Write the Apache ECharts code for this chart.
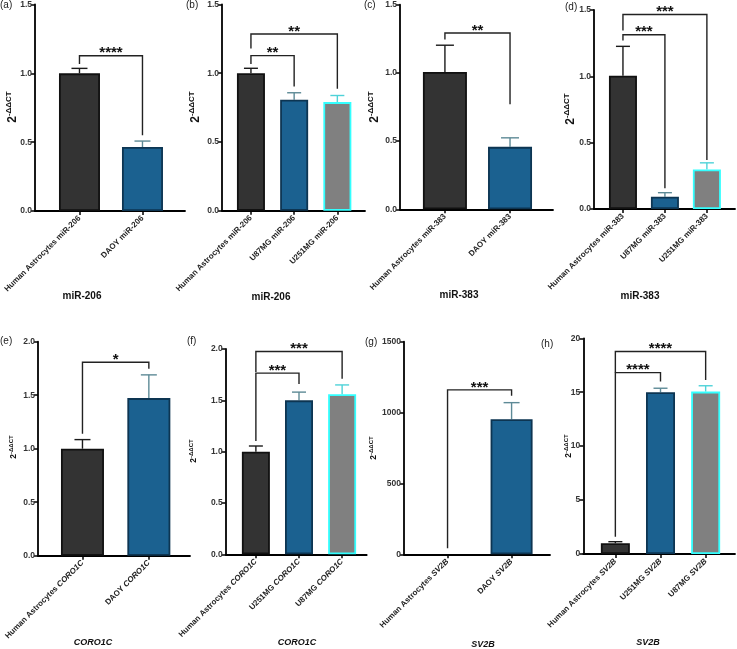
<!DOCTYPE html>
<html><head><meta charset="utf-8">
<script src="https://cdn.jsdelivr.net/npm/echarts@6/dist/echarts.min.js"></script>
<style>html,body{margin:0;padding:0;background:#fff}#c{width:737px;height:649px}</style>
</head><body><div id="c"></div>
<script>
// ---------- data ----------
const catA = ['Human Astrocytes miR-206', 'DAOY miR-206'];
const valA = [1.0, 0.465];
const errA = [0.036, 0.043];
const sigA = [[0, 1, 1.128, 1.068, 0.55, '****']];

const catB = ['Human Astrocytes miR-206', 'U87MG miR-206', 'U251MG miR-206'];
const valB = [1.0, 0.807, 0.79];
const errB = [0.036, 0.051, 0.048];
const sigB = [[0, 1, 1.128, 1.068, 0.904, '**'], [0, 2, 1.285, 1.18, 0.887, '**']];

const catC = ['Human Astrocytes miR-383', 'DAOY miR-383'];
const valC = [1.007, 0.458];
const errC = [0.196, 0.066];
const sigC = [[0, 1, 1.293, 1.245, 0.77, '**']];

const catD = ['Human Astrocytes miR-383', 'U87MG miR-383', 'U251MG miR-383'];
const valD = [1.005, 0.092, 0.298];
const errD = [0.221, 0.031, 0.05];
const sigD = [[0, 1, 1.313, 1.27, 0.156, '***'], [0, 2, 1.466, 1.346, 0.37, '***']];

const catE = ['Human Astrocytes CORO1C', 'DAOY CORO1C'];
const valE = [1.0, 1.473];
const errE = [0.085, 0.217];
const sigE = [[0, 1, 1.808, 1.14, 1.747, '*']];

const catF = ['Human Astrocytes CORO1C', 'U251MG CORO1C', 'U87MG CORO1C'];
const valF = [1.0, 1.5, 1.56];
const errF = [0.055, 0.08, 0.09];
const sigF = [[0, 1, 1.765, 1.104, 1.66, '***'], [0, 2, 1.976, 1.775, 1.709, '***']];

const catG = ['Human Astrocytes SV2B', 'DAOY SV2B'];
const valG = [1, 953];
const errG = [0.1, 117];
const sigG = [[0, 1, 1160, 42, 1118, '***']];

const catH = ['Human Astrocytes SV2B', 'U251MG SV2B', 'U87MG SV2B'];
const valH = [1.0, 15.0, 15.06];
const errH = [0.14, 0.37, 0.54];
const sigH = [[0, 1, 16.82, 1.6, 16.0, '****'], [0, 2, 18.77, 16.82, 16.14, '****']];

const panelLetters = ['(a)', '(b)', '(c)', '(d)', '(e)', '(f)', '(g)', '(h)'];
const groupTitles = ['miR-206', 'miR-206', 'miR-383', 'miR-383', 'CORO1C', 'CORO1C', 'SV2B', 'SV2B'];
const yMax = [1.5, 1.5, 1.5, 1.5, 2.0, 2.0, 1500, 20];
const yStep = [0.5, 0.5, 0.5, 0.5, 0.5, 0.5, 500, 5];
const yBase = '2';
const yExp = '-ΔΔCT';

// ---------- styling / layout ----------
const barFill = ['#333333', '#1b6190', '#808080'];
const barEdge = ['#111111', '#0d3552', '#33ffff'];
const errColor = ['#1a1a1a', '#5d8a96', '#4fd2d8'];

const panels = [
  {cat: catA, val: valA, err: errA, sig: sigA, grid: [35, 4, 150, 207], xr: [-0.706, 1.675], bw: 41, cap: 16, yname: [13, 107], big: true, letter: [0, 0], title: [82, 296]},
  {cat: catB, val: valB, err: errB, sig: sigB, grid: [222, 4, 143, 206.7], xr: [-0.67, 2.64], bw: 28, cap: 14, yname: [196, 107], big: true, letter: [186, 0], title: [271, 297]},
  {cat: catC, val: valC, err: errC, sig: sigC, grid: [400, 4.7, 153, 204.6], xr: [-0.69, 1.66], bw: 44, cap: 18, yname: [375, 107], big: true, letter: [364, 0], title: [459, 295]},
  {cat: catD, val: valD, err: errD, sig: sigD, grid: [594, 10, 141, 199], xr: [-0.69, 2.67], bw: 28, cap: 14, yname: [571, 109], big: true, letter: [565, 2], title: [640, 296]},
  {cat: catE, val: valE, err: errE, sig: sigE, grid: [38, 341.7, 152, 214], xr: [-0.67, 1.62], bw: 43, cap: 16, yname: [14, 447], big: false, letter: [0, 336], title: [93, 643]},
  {cat: catF, val: valF, err: errF, sig: sigF, grid: [225.7, 349, 141, 205.3], xr: [-0.7, 2.57], bw: 28, cap: 14, yname: [194, 451], big: false, letter: [187, 336], title: [297, 643]},
  {cat: catG, val: valG, err: errG, sig: sigG, grid: [404, 341.7, 146, 212.6], xr: [-0.68, 1.6], bw: 42, cap: 16, yname: [374, 448], big: false, letter: [365, 337], title: [483, 645]},
  {cat: catH, val: valH, err: errH, sig: sigH, grid: [583.3, 338.3, 151.7, 215.7], xr: [-0.71, 2.65], bw: 29, cap: 14, yname: [569, 446], big: false, letter: [541, 339], title: [648, 643]}
];

const grids = [], xAxes = [], yAxes = [], series = [], graphics = [];
const FONT = '"Liberation Sans", Arial, sans-serif';
const mctx = document.createElement('canvas').getContext('2d');
function tw(t, f) { mctx.font = f; return mctx.measureText(t).width; }

panels.forEach((p, i) => {
  grids.push({left: p.grid[0], top: p.grid[1], width: p.grid[2], height: p.grid[3], containLabel: false});
  const idx = p.cat.map((_, k) => k);
  const italic = !p.big;
  xAxes.push({
    type: 'value', gridIndex: i, min: p.xr[0], max: p.xr[1],
    axisLine: {show: true, onZero: false, lineStyle: {color: '#000', width: 1.8}},
    axisTick: {show: true, customValues: idx, length: 4, lineStyle: {color: '#000', width: 1.5}},
    splitLine: {show: false},
    axisLabel: {
      customValues: idx, rotate: 45, margin: 6, fontSize: 8, fontWeight: 'bold', color: '#222', fontFamily: FONT,
      formatter: v => {
        const s = p.cat[Math.round(v)] || '';
        if (!italic) return s;
        const j = s.lastIndexOf(' ');
        return '{n|' + s.slice(0, j + 1) + '}{i|' + s.slice(j + 1) + '}';
      },
      rich: {
        n: {fontSize: 8, fontWeight: 'bold', color: '#222', fontFamily: FONT},
        i: {fontSize: 8, fontWeight: 'bold', fontStyle: 'italic', color: '#222', fontFamily: FONT}
      }
    }
  });
  const dec = yStep[i] < 1 ? 1 : 0;
  yAxes.push({
    type: 'value', gridIndex: i, min: 0, max: yMax[i], interval: yStep[i],
    axisLine: {show: true, onZero: false, lineStyle: {color: '#000', width: 1.8}},
    axisTick: {show: true, length: 4, lineStyle: {color: '#000', width: 1.5}},
    splitLine: {show: false},
    axisLabel: {fontSize: 8.5, fontWeight: 'bold', color: '#333', margin: 3, fontFamily: FONT,
      formatter: v => v.toFixed(dec)}
  });
  // bars
  series.push({
    type: 'bar', xAxisIndex: i, yAxisIndex: i, barWidth: p.bw, animation: false,
    data: p.val.map((v, k) => ({value: [k, v], itemStyle: {color: barFill[k], borderColor: barEdge[k],
      borderWidth: v / yMax[i] < 0.005 ? 0 : 1.8}}))
  });
  // error bars
  series.push({
    type: 'custom', xAxisIndex: i, yAxisIndex: i, animation: false, z: 1,
    data: p.val.map((v, k) => [k, v, p.err[k]]),
    renderItem: (params, api) => {
      const x = api.value(0), y = api.value(1), e = api.value(2);
      const p0 = api.coord([x, y]), p1 = api.coord([x, y + e]);
      if (p0[1] - p1[1] < 0.5) return null;
      const c = errColor[params.dataIndex];
      return {type: 'group', children: [
        {type: 'line', shape: {x1: p0[0], y1: p0[1], x2: p1[0], y2: p1[1]}, style: {stroke: c, lineWidth: 1.4}},
        {type: 'line', shape: {x1: p1[0] - p.cap / 2, y1: p1[1], x2: p1[0] + p.cap / 2, y2: p1[1]}, style: {stroke: c, lineWidth: 1.4}}
      ]};
    }
  });
  // significance brackets
  series.push({
    type: 'custom', xAxisIndex: i, yAxisIndex: i, animation: false, clip: false, z: 3,
    data: p.sig.map(s => s.slice(0, 5)),
    renderItem: (params, api) => {
      const a = api.value(0), b = api.value(1), y = api.value(2), l = api.value(3), r = api.value(4);
      const pts = [api.coord([a, l]), api.coord([a, y]), api.coord([b, y]), api.coord([b, r])];
      const txt = p.sig[params.dataIndex][5];
      return {type: 'group', children: [
        {type: 'polyline', shape: {points: pts}, style: {stroke: '#222', lineWidth: 1.4, fill: null}},
        {type: 'text', style: {text: txt, x: (pts[1][0] + pts[2][0]) / 2, y: pts[1][1] + 5, align: 'center', verticalAlign: 'bottom',
          font: 'bold 15px ' + FONT, fill: '#111'}}
      ]};
    }
  });
  // y-axis title 2^-ΔΔCT (rotated, with superscript)
  const fb = (p.big ? 'bold 12px ' : 'bold 8.5px ') + FONT;
  const fs = (p.big ? 'bold 8px ' : 'bold 6px ') + FONT;
  const w1 = tw(yBase, fb), w2 = tw(yExp, fs);
  const tot = w1 + w2;
  graphics.push({
    type: 'group', x: p.yname[0], y: p.yname[1], rotation: Math.PI / 2,
    children: [
      {type: 'text', x: -tot / 2, y: 0, style: {text: yBase, font: fb, fill: '#111', align: 'left', verticalAlign: 'middle'}},
      {type: 'text', x: -tot / 2 + w1, y: p.big ? -4 : -3, style: {text: yExp, font: fs, fill: '#111', align: 'left', verticalAlign: 'middle'}}
    ]
  });
  graphics.push({type: 'text', left: p.letter[0], top: p.letter[1],
    style: {text: panelLetters[i], font: '10px ' + FONT, fill: '#222'}});
  graphics.push({type: 'text', x: p.title[0], y: p.title[1],
    style: {text: groupTitles[i], align: 'center', verticalAlign: 'middle',
      font: (p.big ? 'bold 10px ' : 'italic bold 9px ') + FONT, fill: '#111'}});
});

const chart = echarts.init(document.getElementById('c'), null, {renderer: 'canvas'});
chart.setOption({
  animation: false,
  backgroundColor: '#fff',
  grid: grids, xAxis: xAxes, yAxis: yAxes, series: series, graphic: graphics
});
</script></body></html>
